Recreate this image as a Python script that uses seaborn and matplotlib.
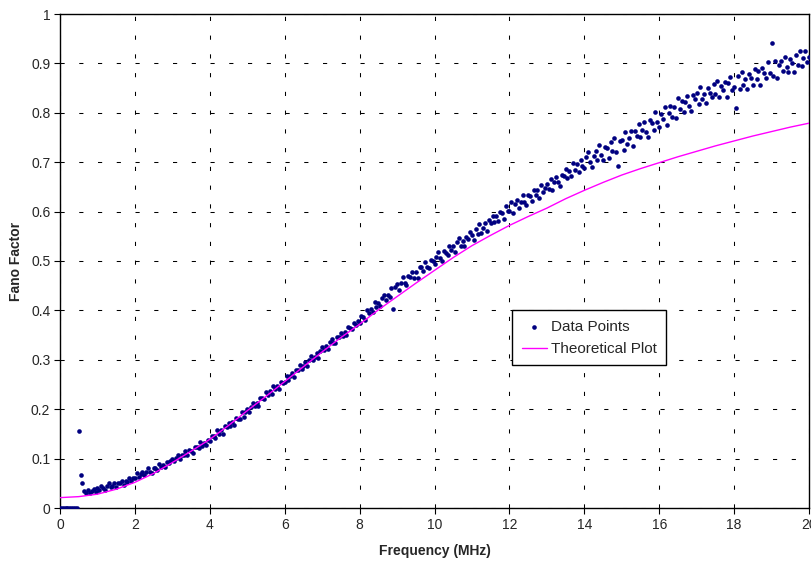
import numpy as np
import pandas as pd
import matplotlib
matplotlib.use("Agg")
import matplotlib.pyplot as plt
import seaborn as sns

# ---------------------------------------------------------------
# data: measured Fano factor, sampled every 0.05 MHz from 0 to 20
fano_blocks = [
    # 0.00 - 0.95
    [0, 0, 0, 0, 0, 0, 0, 0, 0, 0, 0.155, 0.066, 0.050, 0.034, 0.031, 0.036, 0.030, 0.034, 0.038, 0.032],
    # 1.00 - 1.95
    [0.040, 0.036, 0.044, 0.040, 0.037, 0.044, 0.050, 0.042, 0.045, 0.051, 0.043, 0.051, 0.050, 0.055, 0.047, 0.055, 0.053, 0.061, 0.054, 0.060],
    # 2.00 - 2.95
    [0.061, 0.070, 0.062, 0.069, 0.073, 0.066, 0.072, 0.080, 0.073, 0.071, 0.081, 0.081, 0.077, 0.089, 0.083, 0.088, 0.082, 0.093, 0.091, 0.095],
    # 3.00 - 3.95
    [0.100, 0.095, 0.101, 0.108, 0.099, 0.108, 0.107, 0.115, 0.108, 0.117, 0.116, 0.112, 0.124, 0.123, 0.121, 0.133, 0.126, 0.132, 0.127, 0.137],
    # 4.00 - 4.95
    [0.135, 0.146, 0.145, 0.141, 0.157, 0.150, 0.158, 0.150, 0.165, 0.164, 0.172, 0.165, 0.174, 0.168, 0.183, 0.181, 0.180, 0.194, 0.184, 0.194],
    # 5.00 - 5.95
    [0.201, 0.195, 0.205, 0.213, 0.206, 0.212, 0.207, 0.223, 0.222, 0.220, 0.234, 0.229, 0.236, 0.230, 0.247, 0.241, 0.247, 0.241, 0.255, 0.254],
    # 6.00 - 6.95
    [0.256, 0.267, 0.259, 0.268, 0.274, 0.266, 0.279, 0.279, 0.290, 0.281, 0.287, 0.296, 0.288, 0.299, 0.307, 0.300, 0.306, 0.313, 0.304, 0.318],
    # 7.00 - 7.95
    [0.325, 0.320, 0.327, 0.322, 0.336, 0.342, 0.335, 0.335, 0.346, 0.346, 0.355, 0.348, 0.356, 0.351, 0.367, 0.364, 0.363, 0.374, 0.371, 0.379],
    # 8.00 - 8.95
    [0.374, 0.388, 0.386, 0.381, 0.401, 0.394, 0.403, 0.397, 0.416, 0.407, 0.415, 0.408, 0.425, 0.431, 0.422, 0.432, 0.427, 0.446, 0.403, 0.448],
    # 9.00 - 9.95
    [0.454, 0.442, 0.456, 0.467, 0.455, 0.451, 0.469, 0.467, 0.478, 0.465, 0.477, 0.466, 0.488, 0.487, 0.480, 0.498, 0.488, 0.485, 0.503, 0.500],
    # 10.00 - 10.95
    [0.494, 0.509, 0.519, 0.506, 0.501, 0.521, 0.517, 0.513, 0.531, 0.522, 0.530, 0.518, 0.539, 0.546, 0.531, 0.540, 0.531, 0.549, 0.544, 0.559],
    # 11.00 - 11.95
    [0.553, 0.543, 0.565, 0.555, 0.574, 0.557, 0.567, 0.576, 0.561, 0.583, 0.576, 0.592, 0.578, 0.591, 0.581, 0.599, 0.597, 0.585, 0.611, 0.601],
    # 12.00 - 12.95
    [0.601, 0.620, 0.597, 0.616, 0.623, 0.608, 0.619, 0.634, 0.620, 0.614, 0.634, 0.631, 0.622, 0.643, 0.634, 0.643, 0.627, 0.654, 0.639, 0.648],
    # 13.00 - 13.95
    [0.656, 0.645, 0.666, 0.644, 0.660, 0.671, 0.660, 0.652, 0.674, 0.672, 0.686, 0.669, 0.682, 0.672, 0.699, 0.685, 0.696, 0.681, 0.704, 0.692],
    # 14.00 - 14.95
    [0.688, 0.710, 0.720, 0.701, 0.690, 0.713, 0.723, 0.704, 0.734, 0.715, 0.705, 0.731, 0.728, 0.708, 0.741, 0.722, 0.748, 0.721, 0.692, 0.743],
    # 15.00 - 15.95
    [0.744, 0.725, 0.761, 0.737, 0.750, 0.763, 0.733, 0.764, 0.753, 0.777, 0.751, 0.765, 0.782, 0.762, 0.752, 0.785, 0.780, 0.766, 0.801, 0.781],
    # 16.00 - 16.95
    [0.772, 0.798, 0.787, 0.811, 0.775, 0.800, 0.813, 0.792, 0.811, 0.790, 0.829, 0.808, 0.823, 0.801, 0.821, 0.835, 0.813, 0.804, 0.836, 0.828],
    # 17.00 - 17.95
    [0.840, 0.817, 0.852, 0.828, 0.838, 0.819, 0.851, 0.840, 0.831, 0.858, 0.839, 0.865, 0.831, 0.854, 0.846, 0.862, 0.831, 0.861, 0.872, 0.847],
    # 18.00 - 18.95
    [0.853, 0.810, 0.874, 0.848, 0.882, 0.856, 0.869, 0.848, 0.879, 0.871, 0.857, 0.889, 0.869, 0.884, 0.857, 0.891, 0.881, 0.871, 0.902, 0.880],
    # 19.00 - 19.95
    [0.942, 0.875, 0.904, 0.870, 0.896, 0.905, 0.885, 0.913, 0.893, 0.882, 0.908, 0.900, 0.882, 0.916, 0.897, 0.925, 0.895, 0.910, 0.925, 0.902],
    # 20.00
    [0.912],
]
fano_data = [v for block in fano_blocks for v in block]
freq_data = np.round(np.arange(0, 20.0001, 0.05), 2)
assert len(freq_data) == len(fano_data)

# theoretical curve, every 0.5 MHz
theory_freq = np.round(np.arange(0, 20.0001, 0.5), 1)
theory_fano = [0.021, 0.023, 0.028, 0.038, 0.052, 0.070, 0.092, 0.115, 0.139, 0.167,
               0.197, 0.226, 0.256, 0.286, 0.316, 0.345, 0.372, 0.401, 0.428, 0.455,
               0.481, 0.507, 0.531, 0.552, 0.572, 0.590, 0.607, 0.626, 0.643, 0.659,
               0.674, 0.687, 0.699, 0.711, 0.722, 0.733, 0.743, 0.753, 0.762, 0.771,
               0.779]

x_ticks = list(range(0, 21, 2))
y_ticks = [0, 0.1, 0.2, 0.3, 0.4, 0.5, 0.6, 0.7, 0.8, 0.9, 1.0]
y_tick_labels = ['0', '0.1', '0.2', '0.3', '0.4', '0.5', '0.6', '0.7', '0.8', '0.9', '1']

df = pd.DataFrame({'freq': freq_data, 'fano': fano_data})

# ---------------------------------------------------------------
# plot
sns.set_style("white")
plt.rcParams['font.family'] = ['Liberation Sans', 'DejaVu Sans']

fig = plt.figure(figsize=(8.11, 5.62), dpi=100)
ax = fig.add_axes([60 / 811, 1 - 508 / 562, 749 / 811, 494 / 562])

sns.scatterplot(data=df, x='freq', y='fano', ax=ax, marker='o', s=11,
                color='#000080', linewidth=0, label='Data Points', zorder=3)
sns.lineplot(x=theory_freq, y=theory_fano, ax=ax, color='#ff00ff', lw=1,
             label='Theoretical Plot', zorder=4)

ax.set_xlim(0, 20)
ax.set_ylim(0, 1)
ax.set_xticks(x_ticks)
ax.set_yticks(y_ticks)
ax.set_yticklabels(y_tick_labels)
ax.tick_params(axis='both', labelsize=10, length=4, width=0.8, color='black',
               direction='out', pad=3)
ax.tick_params(left=True, bottom=True)

ax.grid(True, color='black', linewidth=0.75, linestyle=(0, (4, 14)))
ax.set_axisbelow(True)
for sp in ax.spines.values():
    sp.set_color('black')
    sp.set_linewidth(1.0)

ax.set_xlabel('Frequency (MHz)', fontsize=10, weight='bold', labelpad=9)
ax.set_ylabel('Fano Factor', fontsize=10, weight='bold', labelpad=6)

leg = ax.legend(loc='upper left', bbox_to_anchor=(0.604, 0.40), fontsize=11,
                frameon=True, fancybox=False, edgecolor='black', framealpha=1,
                handlelength=1.65, borderpad=0.6, labelspacing=0.55,
                handletextpad=0.3, borderaxespad=0, markerscale=1.0)
leg.get_frame().set_linewidth(1.0)
leg.set_zorder(10)

plt.savefig('out.png', dpi=100)
